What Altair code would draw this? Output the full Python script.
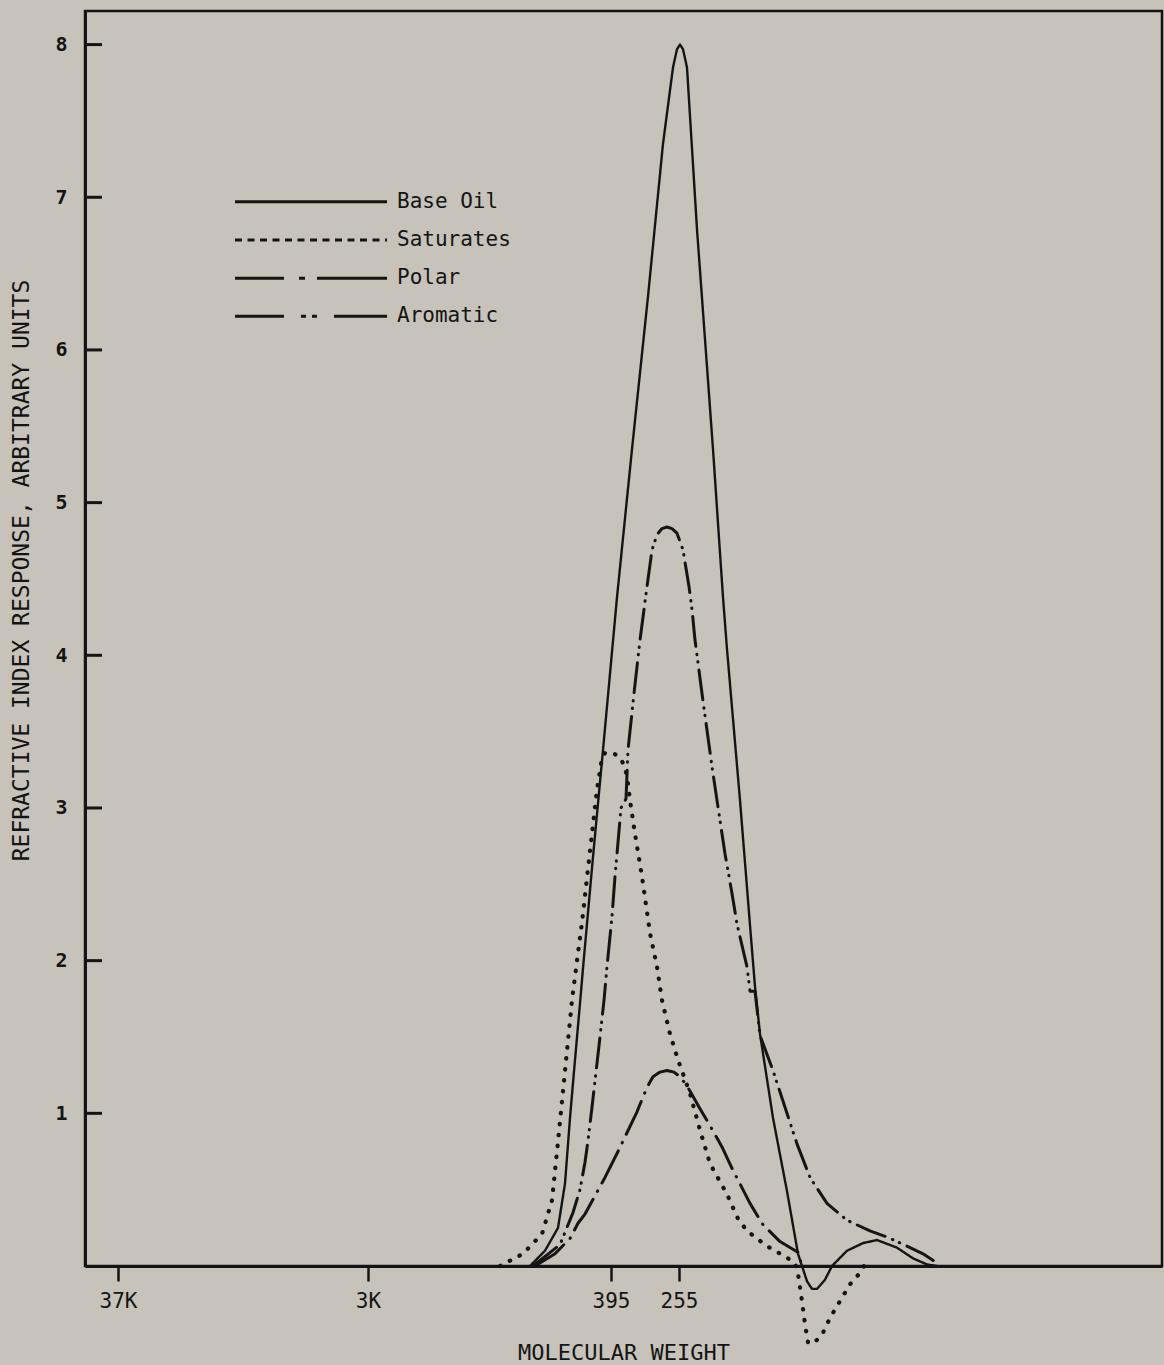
import altair as alt
import pandas as pd

INK = "#141414"
BG = "#c7c3bb"
FONT = "DejaVu Sans Mono"

SERIES = ["Base Oil", "Saturates", "Polar", "Aromatic"]

# elution position (arbitrary counts) vs refractive index response
base_x = [445, 460, 473, 480, 485, 490, 495, 498, 508, 518, 532, 547, 563, 578, 588, 592, 595,
          598, 602, 612, 628, 638, 642, 655, 667, 670, 675, 688, 702, 713, 717, 722, 727, 732,
          740, 747, 762, 778, 792, 812, 828, 842, 852]
base_y = [0, 0.10, 0.25, 0.54, 0.97, 1.35, 1.72, 1.95, 2.68, 3.38, 4.38, 5.35, 6.35, 7.35, 7.85,
          7.97, 8.0, 7.97, 7.85, 6.79, 5.35, 4.38, 4.04, 3.05, 2.07, 1.83, 1.52, 0.97, 0.49, 0.08,
          0, -0.10, -0.15, -0.15, -0.09, 0, 0.10, 0.15, 0.17, 0.12, 0.05, 0.01, 0]

sat_x = [415, 438, 457, 467, 472, 477, 482, 487, 492, 497, 505, 512, 517, 520, 528, 535, 540,
         543, 545, 550, 557, 565, 572, 577, 585, 593, 605, 615, 625, 642, 653, 662, 682, 698,
         710, 713, 717, 720, 723, 728, 737, 745, 755, 765, 777, 779]
sat_y = [0, 0.08, 0.21, 0.43, 0.75, 1.08, 1.41, 1.74, 2.00, 2.25, 2.72, 3.12, 3.33, 3.36, 3.36,
         3.33, 3.27, 3.16, 3.05, 2.83, 2.55, 2.18, 1.96, 1.74, 1.52, 1.35, 1.13, 0.89, 0.67,
         0.47, 0.31, 0.23, 0.13, 0.07, 0.02, -0.05, -0.23, -0.38, -0.50, -0.51, -0.45, -0.34,
         -0.23, -0.12, -0.03, 0]

pol_x = [450, 470, 485, 493, 500, 520, 533, 552, 562, 568, 575, 582, 589, 595, 602, 615, 625,
         637, 647, 665, 678, 695, 713, 717]
pol_y = [0, 0.08, 0.18, 0.28, 0.34, 0.58, 0.75, 1.01, 1.17, 1.24, 1.27, 1.28, 1.27, 1.24, 1.18,
         1.03, 0.92, 0.78, 0.64, 0.41, 0.27, 0.16, 0.09, 0]

aro_x = [448, 475, 488, 495, 500, 503, 507, 511, 515, 519, 522, 527, 530, 536, 541, 543, 549,
         555, 562, 567, 572, 577, 582, 587, 592, 598, 604, 607, 610, 618, 627, 632, 640, 647,
         652, 662, 665, 670, 675, 688, 700, 712, 725, 742, 762, 785, 802, 822, 838, 852]
aro_y = [0, 0.14, 0.35, 0.50, 0.68, 0.82, 1.04, 1.27, 1.50, 1.74, 1.96, 2.29, 2.55, 3.00, 3.06,
         3.38, 3.75, 4.10, 4.45, 4.69, 4.79, 4.83, 4.84, 4.83, 4.80, 4.69, 4.45, 4.30, 4.10,
         3.70, 3.27, 3.05, 2.70, 2.44, 2.24, 1.96, 1.80, 1.80, 1.51, 1.28, 1.04, 0.80, 0.58,
         0.41, 0.30, 0.23, 0.19, 0.13, 0.08, 0.02]

MW_TICK_POS = [33, 283, 526, 594]
MW_TICK_LABELS = ["37K", "3K", "395", "255"]
Y_TICKS = [1, 2, 3, 4, 5, 6, 7, 8]
LEGEND_ROWS = [6.97, 6.72, 6.47, 6.22]

Y_TITLE = "REFRACTIVE INDEX RESPONSE, ARBITRARY UNITS"
X_TITLE = "MOLECULAR WEIGHT"

# styles
LINE_DASH = {"Base Oil": [1, 0], "Saturates": [0.5, 10.5], "Polar": [36, 9, 0.5, 9],
             "Aromatic": [30, 8, 0.5, 7, 0.5, 8]}
LINE_WIDTH = {"Base Oil": 2.4, "Saturates": 4.2, "Polar": 3.0, "Aromatic": 3.0}
LEG_DASH = {"Base Oil": [1, 0], "Saturates": [7, 5.5], "Polar": [49, 15, 6, 12, 80],
            "Aromatic": [49, 17, 5, 6, 5, 17, 70]}

series_data = {"Base Oil": (base_x, base_y), "Saturates": (sat_x, sat_y),
               "Polar": (pol_x, pol_y), "Aromatic": (aro_x, aro_y)}

expr = " : ".join(f"datum.value == {p} ? '{l}'" for p, l in zip(MW_TICK_POS, MW_TICK_LABELS)) + " : ''"

x_enc = alt.X(
    "x:Q",
    scale=alt.Scale(domain=[0, 1077], nice=False, zero=False),
    axis=alt.Axis(values=MW_TICK_POS, labelExpr=expr, title=X_TITLE, tickSize=15, tickWidth=2.5,
                  tickColor=INK, labelFontSize=21, labelPadding=9, labelFlush=False,
                  titleFontSize=22, titleFontWeight="normal", titleY=93,
                  titleBaseline="alphabetic"),
)
y_enc = alt.Y(
    "y:Q",
    scale=alt.Scale(domain=[0, 8.22], nice=False, zero=False),
    axis=alt.Axis(values=Y_TICKS, ticks=False, tickSize=0, labelPadding=18, labelFontSize=20,
                  labelFontWeight="bold", title=Y_TITLE, titleX=-64, titleY=559,
                  titleAngle=270, titleBaseline="middle", titleAlign="center",
                  titleFontSize=23, titleFontWeight="normal"),
)

layers = []
for name in SERIES:
    xs, ys = series_data[name]
    d = pd.DataFrame({"x": xs, "y": ys, "i": list(range(len(xs)))})
    layers.append(
        alt.Chart(d).mark_line(clip=False, color=INK, strokeWidth=LINE_WIDTH[name],
                               strokeDash=LINE_DASH[name], strokeCap="round",
                               strokeJoin="round")
        .encode(x=x_enc, y=y_enc, order="i:Q")
    )

# inward y ticks
tick_df = pd.DataFrame({"y": Y_TICKS})
layers.append(
    alt.Chart(tick_df).mark_rule(color=INK, strokeWidth=3)
    .encode(y=y_enc, x=alt.value(0), x2=alt.value(17))
)

# legend
for name, ly in zip(SERIES, LEGEND_ROWS):
    ld = pd.DataFrame({"series": [name], "y": [ly]})
    layers.append(
        alt.Chart(ld).mark_rule(color=INK, strokeWidth=3, strokeDash=LEG_DASH[name])
        .encode(y=y_enc, x=alt.value(150), x2=alt.value(302))
    )
legend_df = pd.DataFrame({"series": SERIES, "y": LEGEND_ROWS})
layers.append(
    alt.Chart(legend_df).mark_text(align="left", baseline="middle", font=FONT, fontSize=21,
                                   color=INK)
    .encode(y=y_enc, x=alt.value(312), text="series:N")
)

chart = (
    alt.layer(*layers)
    .properties(width=1077, height=1255,
                padding={"left": 85, "top": 11, "right": 2, "bottom": 99},
                autosize=alt.AutoSizeParams(type="none"), background=BG)
    .configure_view(stroke=INK, strokeWidth=2.5)
    .configure_axis(domainColor=INK, domainWidth=3, labelColor=INK, titleColor=INK,
                    labelFont=FONT, titleFont=FONT, grid=False)
)

chart.save("out.html", embed_options={"renderer": "svg", "actions": False})
